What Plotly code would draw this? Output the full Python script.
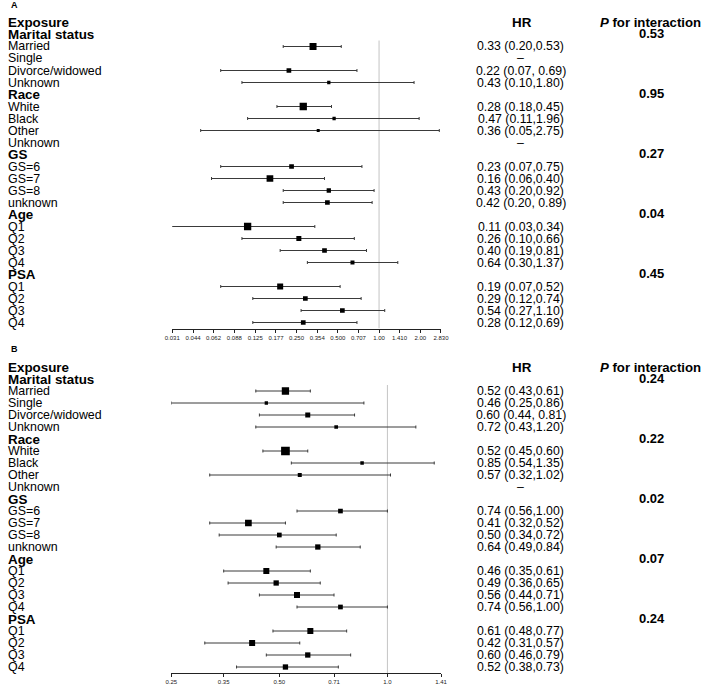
import math
import plotly.graph_objects as go

# ---------------- data ----------------
group_names = ["Marital status", "Race", "GS", "Age", "PSA"]
sub_labels = [
    ["Married", "Single", "Divorce/widowed", "Unknown"],
    ["White", "Black", "Other", "Unknown"],
    ["GS=6", "GS=7", "GS=8", "unknown"],
    ["Q1", "Q2", "Q3", "Q4"],
    ["Q1", "Q2", "Q3", "Q4"],
]

# Panel A
hr_a = [0.33, None, 0.22, 0.43,
        0.28, 0.47, 0.36, None,
        0.23, 0.16, 0.43, 0.42,
        0.11, 0.26, 0.40, 0.64,
        0.19, 0.29, 0.54, 0.28]
lo_a = [0.20, None, 0.07, 0.10,
        0.18, 0.11, 0.05, None,
        0.07, 0.06, 0.20, 0.20,
        0.03, 0.10, 0.19, 0.30,
        0.07, 0.12, 0.27, 0.12]
hi_a = [0.53, None, 0.69, 1.80,
        0.45, 1.96, 2.75, None,
        0.75, 0.40, 0.92, 0.89,
        0.34, 0.66, 0.81, 1.37,
        0.52, 0.74, 1.10, 0.69]
hr_text_a = ["0.33 (0.20,0.53)", None, "0.22 (0.07, 0.69)", "0.43 (0.10,1.80)",
             "0.28 (0.18,0.45)", "0.47 (0.11,1.96)", "0.36 (0.05,2.75)", None,
             "0.23 (0.07,0.75)", "0.16 (0.06,0.40)", "0.43 (0.20,0.92)", "0.42 (0.20, 0.89)",
             "0.11 (0.03,0.34)", "0.26 (0.10,0.66)", "0.40 (0.19,0.81)", "0.64 (0.30,1.37)",
             "0.19 (0.07,0.52)", "0.29 (0.12,0.74)", "0.54 (0.27,1.10)", "0.28 (0.12,0.69)"]
p_a = ["0.53", "0.95", "0.27", "0.04", "0.45"]
ticks_a = ["0.031", "0.044", "0.062", "0.088", "0.125", "0.177", "0.250",
           "0.354", "0.500", "0.707", "1.00", "1.410", "2.00", "2.830"]

# Panel B
hr_b = [0.52, 0.46, 0.60, 0.72,
        0.52, 0.85, 0.57, None,
        0.74, 0.41, 0.50, 0.64,
        0.46, 0.49, 0.56, 0.74,
        0.61, 0.42, 0.60, 0.52]
lo_b = [0.43, 0.25, 0.44, 0.43,
        0.45, 0.54, 0.32, None,
        0.56, 0.32, 0.34, 0.49,
        0.35, 0.36, 0.44, 0.56,
        0.48, 0.31, 0.46, 0.38]
hi_b = [0.61, 0.86, 0.81, 1.20,
        0.60, 1.35, 1.02, None,
        1.00, 0.52, 0.72, 0.84,
        0.61, 0.65, 0.71, 1.00,
        0.77, 0.57, 0.79, 0.73]
hr_text_b = ["0.52 (0.43,0.61)", "0.46 (0.25,0.86)", "0.60 (0.44, 0.81)", "0.72 (0.43,1.20)",
             "0.52 (0.45,0.60)", "0.85 (0.54,1.35)", "0.57 (0.32,1.02)", None,
             "0.74 (0.56,1.00)", "0.41 (0.32,0.52)", "0.50 (0.34,0.72)", "0.64 (0.49,0.84)",
             "0.46 (0.35,0.61)", "0.49 (0.36,0.65)", "0.56 (0.44,0.71)", "0.74 (0.56,1.00)",
             "0.61 (0.48,0.77)", "0.42 (0.31,0.57)", "0.60 (0.46,0.79)", "0.52 (0.38,0.73)"]
p_b = ["0.24", "0.22", "0.02", "0.07", "0.24"]
ticks_b = ["0.25", "0.35", "0.50", "0.71", "1.0", "1.41"]

# ---------------- styles ----------------
box_px_a = [7, 0, 4.7, 3.3, 7.3, 3.3, 3, 0, 4.7, 6.7, 4.3, 4.7,
            7.3, 5, 4.7, 4, 6, 4.7, 4.7, 4.7]
box_px_b = [7.3, 3.3, 5, 3.7, 8.7, 3.5, 4, 0, 4.7, 6.7, 4.7, 5.3,
            6, 5.3, 6, 4.7, 6, 6, 5.3, 5.3]

W, H = 709, 687
FONT = "Liberation Sans, Arial, Helvetica, sans-serif"
ROW = 12.0
LINE = "#3a3a3a"

fig = go.Figure()
annotations = []


def px_x(p):
    return p / W


def ann(**kw):
    kw.setdefault("showarrow", False)
    kw.setdefault("borderpad", 0)
    kw.setdefault("borderwidth", 0)
    kw.setdefault("yanchor", "middle")
    annotations.append(kw)


def build_rows():
    rows = [("Exposure", True, None, None)]
    for gi, g in enumerate(group_names):
        rows.append((g, True, gi, None))
        for si, s in enumerate(sub_labels[gi]):
            rows.append((s, False, gi, si))
    return rows


def panel(xa, ya, hr, lo, hi, hr_text, pvals, ticks, sizes,
          axis_px, top_px, x0_px, x1_px, letter, letter_px):
    rows = build_rows()
    nrows = len(rows)
    bottom = (nrows - 1) + 0.5
    top = bottom - (axis_px - top_px) / ROW
    tickvals = [float(t) for t in ticks]
    xkey = "xaxis" if xa == "x" else "xaxis2"
    ykey = "yaxis" if ya == "y" else "yaxis2"
    fig.update_layout(**{
        xkey: dict(type="log", domain=[px_x(x0_px), px_x(x1_px)],
                   range=[math.log10(tickvals[0]), math.log10(tickvals[-1])],
                   anchor=ya, showline=True, linecolor="#222", linewidth=1,
                   ticks="outside", ticklen=3, tickwidth=1, tickcolor="#222",
                   tickvals=tickvals, ticktext=ticks, showgrid=False,
                   zeroline=False, fixedrange=True,
                   tickfont=dict(family=FONT, size=6, color="#222")),
        ykey: dict(domain=[(H - axis_px) / H, (H - top_px) / H],
                   range=[bottom, top], visible=False, showgrid=False,
                   zeroline=False, anchor=xa, fixedrange=True),
    })

    # reference line at HR = 1
    fig.add_trace(go.Scatter(x=[1, 1], y=[1.5, bottom], mode="lines",
                             line=dict(color="#c4c4c4", width=1),
                             xaxis=xa, yaxis=ya, showlegend=False,
                             hoverinfo="skip"))

    k = 0
    for ri, (lab, bold, gi, si) in enumerate(rows):
        if si is None:
            continue
        v, l, h = hr[k], lo[k], hi[k]
        if v is not None:
            fig.add_trace(go.Scatter(
                x=[v], y=[ri], mode="markers",
                marker=dict(symbol="square", size=sizes[k], color="black",
                            line=dict(width=0)),
                error_x=dict(type="data", symmetric=False,
                             array=[h - v], arrayminus=[v - l],
                             color=LINE, thickness=1, width=1.5),
                xaxis=xa, yaxis=ya, showlegend=False))
        txt = hr_text[k] if hr_text[k] is not None else "–"
        ann(xref="paper", yref=ya, x=px_x(524.5), y=ri, text=txt,
            xanchor="center",
            font=dict(family=FONT, size=12.3, color="black"))
        k += 1

    for ri, (lab, bold, gi, si) in enumerate(rows):
        t = f"<b>{lab}</b>" if bold else lab
        ann(xref="paper", yref=ya, x=px_x(0.5), y=ri, text=t, xanchor="left",
            font=dict(family=FONT, size=13.4 if bold else 12.4, color="black"))
        if bold and gi is not None:
            ann(xref="paper", yref=ya, x=px_x(658.5), y=ri - 0.05,
                text=f"<b>{pvals[gi]}</b>", xanchor="center",
                font=dict(family=FONT, size=13, color="black"))

    ann(xref="paper", yref=ya, x=px_x(525.5), y=0, text="<b>HR</b>",
        xanchor="center", font=dict(family=FONT, size=13.4, color="black"))
    ann(xref="paper", yref=ya, x=px_x(657.5), y=0,
        text="<b><i>P</i> for interaction</b>", xanchor="center",
        font=dict(family=FONT, size=13.2, color="black"))
    ann(xref="paper", yref="paper", x=px_x(letter_px[0]),
        y=(H - letter_px[1]) / H, text=f"<b>{letter}</b>", xanchor="center",
        font=dict(family=FONT, size=9, color="black"))


panel("x", "y", hr_a, lo_a, hi_a, hr_text_a, p_a, ticks_a, box_px_a,
      axis_px=328.5, top_px=8, x0_px=168, x1_px=443,
      letter="A", letter_px=(6.5, 5))
panel("x2", "y2", hr_b, lo_b, hi_b, hr_text_b, p_b, ticks_b, box_px_b,
      axis_px=673, top_px=352, x0_px=167, x1_px=443,
      letter="B", letter_px=(6.5, 348.5))

fig.update_layout(width=W, height=H, margin=dict(l=0, r=0, t=0, b=0),
                  paper_bgcolor="white", plot_bgcolor="white",
                  annotations=annotations, showlegend=False)

fig.write_html("out.html",
               config={"displayModeBar": False},
               post_script="document.body.style.margin='0px';"
                           "document.body.style.overflow='hidden';")
